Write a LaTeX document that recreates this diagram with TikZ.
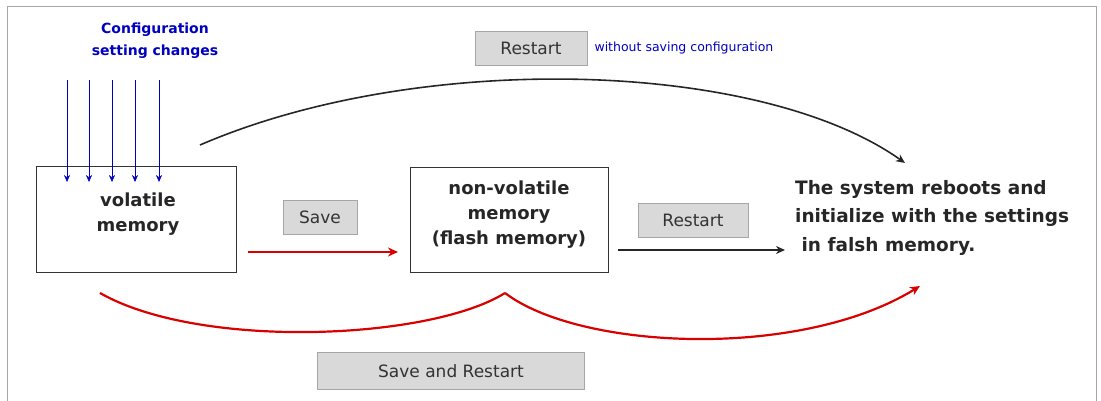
\documentclass[tikz,border=0pt]{standalone}
\usepackage{fontspec}
\setmainfont{DejaVu Sans}
\usetikzlibrary{arrows.meta}
\begin{document}
\begin{tikzpicture}[x=1pt,y=-1pt,
  btn/.style={draw=gray!70,fill=gray!30,minimum height=34pt,font=\fontsize{17}{20}\selectfont,text=black!80,inner sep=0pt},
  box/.style={draw=black!80,line width=0.8pt,anchor=north west,inner sep=0pt},
  big/.style={font=\bfseries\fontsize{18}{25}\selectfont,align=center,text=black!85},
  red/.style={draw=red!85!black,line width=2.2pt,-{Stealth[length=10pt,width=9pt]}}]
\useasboundingbox (0,0) rectangle (1101,401);
\draw[gray!70,line width=1pt] (7,401) -- (7,7) -- (1096,7) -- (1096,401);
\node[font=\bfseries\fontsize{14}{22}\selectfont,text=blue!75!black,align=center] (cfg) at (155,41) {Configuration\\setting changes};
\node[box,minimum width=200pt,minimum height=106pt] (vol) at (36,166) {};
\node[big] (voltxt) at (138,214) {volatile\\memory};
\foreach \x [count=\i] in {67,89,112,135,159}{
  \coordinate (s\i) at (\x,80); \coordinate (e\i) at (\x,182);
  \draw[blue!75!black,-{Stealth[length=7pt,width=6pt]}] (s\i) -- (e\i);}
\node[box,minimum width=198pt,minimum height=105pt] (nv) at (410,167) {};
\node[big] (nvtxt) at (509,215) {non-volatile\\memory\\(flash memory)};
\node[btn,minimum width=112pt] (r1) at (531,48) {Restart};
\node[anchor=west,font=\fontsize{12.5}{15}\selectfont,text=blue!75!black] (ws) at (591,48) {without saving configuration};
\node[btn,minimum width=74pt] (sv) at (320,217) {Save};
\node[btn,minimum width=110pt] (r2) at (693,220) {Restart};
\node[btn,minimum width=267pt,minimum height=37pt] (sr) at (451,371) {Save and Restart};
\node[font=\bfseries\fontsize{18.5}{28.5}\selectfont,text=black!85,anchor=north west,align=left,inner sep=0pt] (sys) at (795,180) {The system reboots and\\initialize with the settings\\\ in falsh memory.};
\coordinate (c1) at (200,145); \coordinate (c2) at (905,163);
\draw[black!85,line width=1.6pt,-{Stealth[length=9pt,width=8pt]}] (c1) .. controls (420,50) and (760,60) .. (c2);
\coordinate (a1) at (248,252); \coordinate (a2) at (398,252);
\draw[red] (a1) -- (a2);
\coordinate (b1) at (618,250); \coordinate (b2) at (785,250);
\draw[black!85,line width=1.6pt,-{Stealth[length=9pt,width=8pt]}] (b1) -- (b2);
\coordinate (l1) at (100,293); \coordinate (pk) at (505,293); \coordinate (l2) at (920,286);
\draw[red,-] (l1) .. controls (200,350) and (430,340) .. (pk);
\draw[red] (pk) .. controls (580,350) and (800,360) .. (l2);
\end{tikzpicture}
\end{document}
